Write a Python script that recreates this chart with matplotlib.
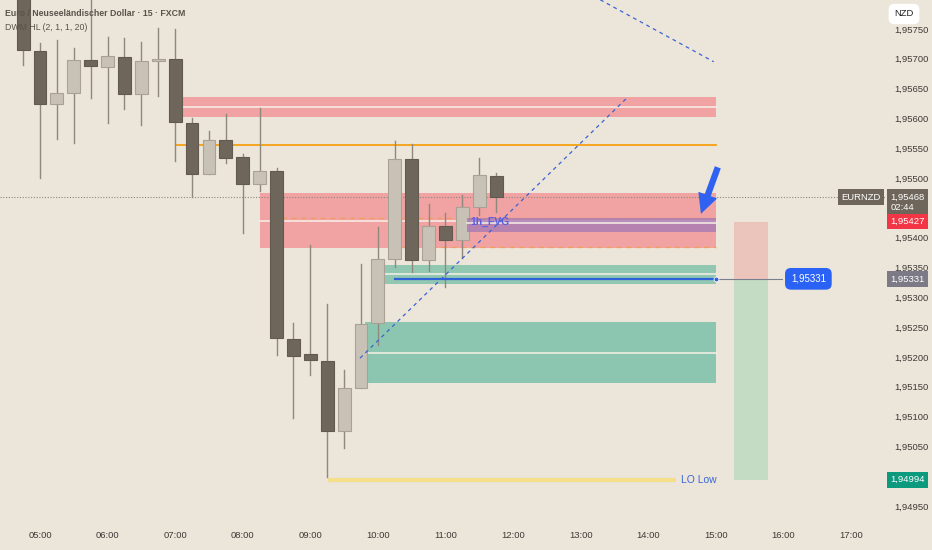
import numpy as np
import matplotlib.pyplot as plt
from matplotlib.patches import Rectangle
from matplotlib.ticker import FuncFormatter

# EURNZD 15m candles
times = ["04:45", "05:00", "05:15", "05:30", "05:45", "06:00", "06:15", "06:30",
         "06:45", "07:00", "07:15", "07:30", "07:45", "08:00", "08:15", "08:30",
         "08:45", "09:00", "09:15", "09:30", "09:45", "10:00", "10:15", "10:30",
         "10:45", "11:00", "11:15", "11:30", "11:45"]
opens = [1.95815, 1.95713, 1.95624, 1.95643, 1.95698, 1.95686, 1.95703, 1.95641,
         1.95697, 1.95700, 1.95592, 1.95507, 1.95564, 1.95535, 1.95490, 1.95512,
         1.95230, 1.95205, 1.95193, 1.95076, 1.95148, 1.95257, 1.95364, 1.95532,
         1.95363, 1.95420, 1.95396, 1.95451, 1.95503]
highs = [1.95832, 1.95727, 1.95732, 1.95718, 1.95805, 1.95737, 1.95735, 1.95728,
         1.95752, 1.95750, 1.95601, 1.95579, 1.95607, 1.95540, 1.95618, 1.95517,
         1.95257, 1.95388, 1.95289, 1.95178, 1.95356, 1.95418, 1.95562, 1.95557,
         1.95457, 1.95441, 1.95472, 1.95534, 1.95508]
lows = [1.95690, 1.95500, 1.95566, 1.95559, 1.95634, 1.95592, 1.95616, 1.95589,
        1.95638, 1.95529, 1.95468, 1.95507, 1.95525, 1.95408, 1.95478, 1.95203,
        1.95098, 1.95170, 1.94999, 1.95047, 1.95148, 1.95220, 1.95351, 1.95342,
        1.95344, 1.95317, 1.95366, 1.95438, 1.95443]
closes = [1.95715, 1.95624, 1.95643, 1.95698, 1.95688, 1.95705, 1.95641, 1.95696,
          1.95699, 1.95594, 1.95507, 1.95564, 1.95534, 1.95490, 1.95512, 1.95232,
          1.95202, 1.95195, 1.95076, 1.95148, 1.95255, 1.95364, 1.95532, 1.95363,
          1.95420, 1.95396, 1.95451, 1.95505, 1.95468]

# zones: start hour, end hour, low, high, mid line
supply_top = [7.10, 15.0, 1.95602, 1.95636, 1.95619]
supply_mid = [8.26, 15.0, 1.95383, 1.95475, 1.95428]
fvg_1h = [11.32, 15.0, 1.95410, 1.95433, 1.95424]
demand_hi = [10.03, 15.0, 1.95322, 1.95354, 1.95339]
demand_lo = [9.81, 15.0, 1.95156, 1.95259, 1.95207]
orange_level = [7.01, 15.0, 1.95555]
entry_level = [10.25, 15.0, 1.95331]
lo_low = [9.26, 14.41, 1.94994]
trend_a = [[9.735, 13.70], [1.95198, 1.95636]]
trend_b = [[13.29, 14.97], [1.95799, 1.95695]]
rr_box = [15.27, 15.78, 1.95427, 1.95331, 1.94994]
last_price = 1.95468
target_price = 1.95427

x_ticks = [5, 6, 7, 8, 9, 10, 11, 12, 13, 14, 15, 16, 17]
x_labels = ["05:00", "06:00", "07:00", "08:00", "09:00", "10:00", "11:00",
            "12:00", "13:00", "14:00", "15:00", "16:00", "17:00"]
price_ticks = [1.9495, 1.9505, 1.9510, 1.9515, 1.9520, 1.9525, 1.9530,
               1.9535, 1.9540, 1.9550, 1.9555, 1.9560, 1.9565, 1.9570, 1.9575]

bg = "#ece5da"
dark = "#6e665b"
light = "#c8c1b6"
font = ["Liberation Sans", "DejaVu Sans"]
plt.rcParams["font.family"] = font

W, H = 932, 550
fig = plt.figure(figsize=(W / 100, H / 100), dpi=100, facecolor=bg)
ax = fig.add_axes([0, 32 / H, 885 / W, 518 / H])
ax.set_facecolor(bg)
for s in ax.spines.values():
    s.set_visible(False)

hours = np.array([int(t[:2]) + int(t[3:]) / 60 for t in times])
bw = 0.19
for h, o, hi, lo, c in zip(hours, opens, highs, lows, closes):
    col = light if c >= o else dark
    edge = "#a9a196" if c >= o else "#625a50"
    ax.plot([h, h], [lo, hi], color="#8f887d", lw=1, zorder=3)
    body = max(abs(c - o), 0.000015)
    ax.add_patch(Rectangle((h - bw / 2, min(o, c)), bw, body, facecolor=col,
                           edgecolor=edge, lw=0.8, zorder=4))


def zone(z, color, alpha=1.0, zo=1):
    ax.add_patch(Rectangle((z[0], z[2]), z[1] - z[0], z[3] - z[2], facecolor=color,
                           edgecolor="none", alpha=alpha, zorder=zo))
    ax.plot([z[0], z[1]], [z[4], z[4]], color="#f7f1e8", lw=1.1, zorder=zo + 0.1)


zone(supply_top, "#f0a3a2")
zone(supply_mid, "#f0a3a2")
zone(demand_hi, "#8dc6b0", 0.95, 2)
zone(demand_lo, "#8dc6b0")
zone(fvg_1h, "#a87bb6", 0.8, 5)
ax.plot([supply_mid[0] + 0.3, supply_mid[1]], [1.95433, 1.95433], color="#f29b3a",
        lw=1, ls=(0, (4, 3)), alpha=0.6, zorder=1.5)
ax.plot([supply_mid[0] + 2.1, supply_mid[1]], [1.95384, 1.95384], color="#f29b3a",
        lw=1, ls=(0, (4, 3)), alpha=0.6, zorder=1.5)
ax.text(fvg_1h[0] + 0.05, fvg_1h[4] + 0.00002, "1h_FVG", color="#5b5fe0", fontsize=7.5,
        fontweight="bold", va="center", ha="left", zorder=6)

ax.plot(orange_level[:2], [orange_level[2]] * 2, color="#f5a011", lw=1.3, zorder=2)
ax.plot(entry_level[:2], [entry_level[2]] * 2, color="#2f62d8", lw=1.6, zorder=6)
ax.plot([entry_level[1]], [entry_level[2]], "o", ms=3.5, mfc="#2f62d8", mec="white",
        mew=0.6, zorder=7)
ax.plot([entry_level[1], 15.98], [entry_level[2]] * 2, color="#7a7f8e", lw=0.8, zorder=6)
ax.annotate("1,95331", (16.37, entry_level[2]), color="white", fontsize=7, ha="center",
            va="center", zorder=8,
            bbox=dict(boxstyle="round,pad=0.6", fc="#2a62f5", ec="none"))

ax.plot(lo_low[:2], [lo_low[2]] * 2, color="#f6df8c", lw=3, solid_capstyle="butt", zorder=2)
ax.text(lo_low[1] + 0.08, lo_low[2], "LO Low", color="#3a66d8", fontsize=7.5,
        va="center", ha="left")

ax.plot(trend_a[0], trend_a[1], color="#3b63d6", lw=0.9, ls=(0, (3, 3)), zorder=6)
ax.plot(trend_b[0], trend_b[1], color="#3b63d6", lw=0.9, ls=(0, (3, 3)), zorder=6)

ax.add_patch(Rectangle((rr_box[0], rr_box[3]), rr_box[1] - rr_box[0], rr_box[2] - rr_box[3],
                       facecolor="#ebc4bb", edgecolor="none", zorder=1))
ax.add_patch(Rectangle((rr_box[0], rr_box[4]), rr_box[1] - rr_box[0], rr_box[3] - rr_box[4],
                       facecolor="#c3dcc3", edgecolor="none", zorder=1))

ax.annotate("", xy=(14.78, 1.95440), xytext=(15.03, 1.95518),
            arrowprops=dict(arrowstyle="simple,head_length=1.1,head_width=1.1,tail_width=0.35",
                            fc="#2f62f0", ec="none", mutation_scale=13,
                            shrinkA=0, shrinkB=0),
            zorder=7)

ax.axhline(last_price, color="#8c8880", lw=0.8, ls=(0, (1, 1.5)), zorder=2.5)

ax.set_xlim(4.408, 17.504)
ax.set_ylim(1.949299, 1.957986)
ax.set_xticks(x_ticks)
ax.set_xticklabels(x_labels)
ax.set_yticks(price_ticks)
ax.yaxis.tick_right()
ax.yaxis.set_major_formatter(FuncFormatter(lambda v, p: f"{v:.5f}".replace(".", ",")))
ax.tick_params(axis="x", length=0, pad=9, labelsize=6.8, labelcolor="#3d3a36")
ax.tick_params(axis="y", length=0, pad=7, labelsize=6.8, labelcolor="#3d3a36")

# price scale tags
def tag(y, text, fc, dx=4, fs=6.8, tc="white"):
    ax.annotate(text, (1.0, y), xycoords=("axes fraction", "data"), xytext=(dx, 0),
                textcoords="offset points", ha="left", va="center", fontsize=fs,
                color=tc, zorder=10, annotation_clip=False,
                bbox=dict(boxstyle="square,pad=0.35", fc=fc, ec="none"))


tag(last_price - 0.00009, "1,95468\n02:44", "#6e665b")
tag(target_price, "1,95427", "#f23645")
tag(entry_level[2], "1,95331", "#7b7a86")
tag(lo_low[2], "1,94994", "#0b9a7e")
ax.annotate("EURNZD", (1.0, last_price), xycoords=("axes fraction", "data"), xytext=(-3, 0),
            textcoords="offset points", ha="right", va="center", fontsize=6.8,
            color="white", zorder=10,
            bbox=dict(boxstyle="square,pad=0.35", fc="#6e665b", ec="none"))
fig.text(904 / W, 1 - 14 / H, "NZD", fontsize=6.8, ha="center", va="center", color="#222222",
         bbox=dict(boxstyle="round,pad=0.6", fc="white", ec="none"))

fig.text(5 / W, 1 - 13 / H, "Euro / Neuseeländischer Dollar · 15 · FXCM", fontsize=6.3,
         fontweight="bold", color="#5a534b", va="center", ha="left", zorder=20)
fig.text(5 / W, 1 - 27 / H, "DWM HL (2, 1, 1, 20)", fontsize=6.3, color="#5a534b",
         va="center", ha="left", zorder=20)

fig.savefig("out.png", dpi=100, facecolor=bg)
